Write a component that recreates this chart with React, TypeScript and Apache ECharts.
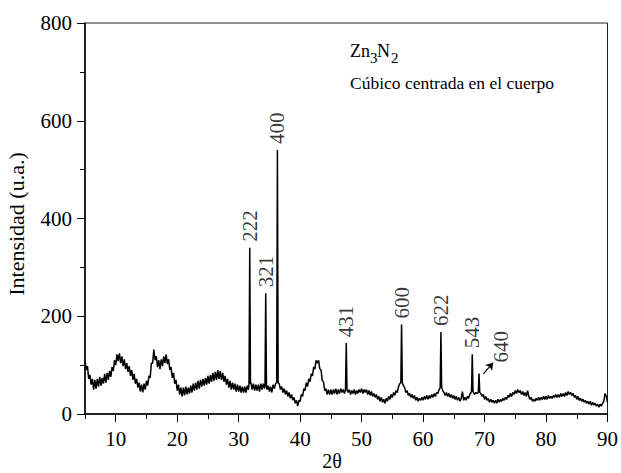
import React, { useEffect, useRef } from "react";
import * as echarts from "echarts";

// Diffraction pattern sampled every 0.2° of 2θ starting at 5° (one row per degree)
const THETA_START = 5;
const THETA_STEP = 0.2;
const background = [
  110, 90, 98, 72, 80, // 5
  60, 72, 50, 70, 52, // 6
  72, 56, 76, 58, 74, // 7
  62, 82, 64, 84, 70, // 8
  88, 76, 96, 88, 110, // 9
  100, 122, 108, 124, 104, // 10
  118, 98, 112, 92, 104, // 11
  86, 98, 78, 90, 70, // 12
  82, 62, 72, 54, 64, // 13
  46, 60, 44, 62, 50, // 14
  68, 58, 78, 74, 104, // 15
  104, 132, 110, 118, 96, // 16
  110, 92, 112, 98, 118, // 17
  104, 122, 102, 112, 90, // 18
  96, 74, 84, 62, 70, // 19
  48, 60, 40, 54, 36, // 20
  54, 38, 56, 40, 54, // 21
  42, 58, 44, 62, 48, // 22
  64, 50, 68, 52, 70, // 23
  56, 72, 58, 74, 60, // 24
  78, 62, 80, 66, 84, // 25
  68, 86, 70, 90, 72, // 26
  88, 70, 84, 66, 78, // 27
  60, 72, 54, 68, 50, // 28
  64, 50, 62, 46, 60, // 29
  46, 58, 44, 56, 44, // 30
  56, 44, 58, 50, 60, // 31
  64, 50, 62, 48, 60, // 32
  48, 60, 46, 62, 50, // 33
  62, 52, 58, 50, 58, // 34
  46, 56, 44, 60, 52, // 35
  62, 60, 62, 62, 50, // 36
  56, 44, 52, 40, 48, // 37
  36, 44, 32, 40, 28, // 38
  34, 22, 28, 16, 28, // 39
  26, 40, 36, 52, 48, // 40
  64, 56, 72, 66, 82, // 41
  78, 96, 92, 110, 104, // 42
  110, 92, 90, 68, 66, // 43
  48, 52, 40, 50, 40, // 44
  50, 40, 50, 42, 52, // 45
  40, 50, 42, 52, 44, // 46
  50, 42, 52, 52, 44, // 47
  50, 40, 48, 42, 50, // 48
  40, 48, 42, 50, 44, // 49
  52, 42, 50, 44, 50, // 50
  40, 48, 38, 46, 36, // 51
  42, 34, 40, 30, 36, // 52
  26, 34, 24, 30, 22, // 53
  32, 26, 36, 30, 40, // 54
  34, 44, 38, 48, 44, // 55
  56, 62, 64, 64, 58, // 56
  54, 44, 48, 38, 42, // 57
  34, 40, 32, 38, 28, // 58
  34, 26, 32, 28, 34, // 59
  28, 36, 30, 38, 30, // 60
  38, 32, 40, 34, 42, // 61
  36, 44, 42, 50, 52, // 62
  52, 48, 44, 38, 44, // 63
  36, 42, 34, 40, 32, // 64
  38, 30, 36, 28, 34, // 65
  26, 32, 46, 28, 34, // 66
  28, 36, 32, 40, 44, // 67
  44, 46, 40, 44, 42, // 68
  44, 44, 42, 36, 40, // 69
  30, 36, 28, 32, 24, // 70
  30, 24, 28, 22, 28, // 71
  22, 30, 24, 30, 26, // 72
  32, 28, 34, 30, 38, // 73
  34, 42, 36, 44, 40, // 74
  48, 42, 50, 44, 48, // 75
  40, 46, 38, 44, 36, // 76
  48, 36, 30, 34, 26, // 77
  30, 26, 32, 28, 34, // 78
  28, 34, 30, 36, 30, // 79
  36, 30, 38, 32, 36, // 80
  32, 38, 34, 40, 34, // 81
  40, 34, 42, 36, 42, // 82
  36, 44, 38, 46, 40, // 83
  44, 38, 42, 34, 38, // 84
  30, 36, 28, 32, 26, // 85
  30, 24, 28, 22, 26, // 86
  20, 26, 18, 24, 18, // 87
  22, 16, 20, 14, 20, // 88
  16, 22, 26, 42, 36, // 89
  24, // 90
];

// Indexed reflections of cubic Zn3N2
const peakTheta = [31.8, 34.4, 36.3, 47.5, 56.5, 62.9, 68.0, 69.1];
const peakIntensity = [340, 247, 540, 145, 183, 168, 122, 83];
const peakBase = [62, 58, 64, 50, 64, 54, 46, 44];
const peakHkl = ["222", "321", "400", "431", "600", "622", "543", "640"];

// Pointer from the (640) reflection towards its label
const arrow640 = [
  [69.8, 82],
  [71.4, 105],
];

const yTicks = { min: 0, max: 800, interval: 200 };
const xMajorTicks = [10, 20, 30, 40, 50, 60, 70, 80, 90];
const xMinorTicks = [5, 15, 25, 35, 45, 55, 65, 75, 85];

const FONT = "'Liberation Serif', 'Times New Roman', serif";
const PEAK_HALF_WIDTH = 0.12;
const PEAK_WINDOW = 0.15;

function buildPattern(): [number, number][] {
  const pts: [number, number][] = [];
  background.forEach((v, i) => {
    const t = THETA_START + i * THETA_STEP;
    if (peakTheta.some((p) => Math.abs(p - t) < PEAK_WINDOW)) return;
    pts.push([t, v]);
  });
  peakTheta.forEach((p, k) => {
    pts.push([p - PEAK_HALF_WIDTH, peakBase[k]]);
    pts.push([p, peakIntensity[k]]);
    pts.push([p + PEAK_HALF_WIDTH, peakBase[k]]);
  });
  pts.sort((a, b) => a[0] - b[0]);
  return pts;
}

export default function App() {
  const ref = useRef<HTMLDivElement>(null);

  useEffect(() => {
    if (!ref.current) return;
    const chart = echarts.init(ref.current, undefined, { renderer: "svg" });

    const textStyle = (text: string, size: number) => ({
      text,
      fontSize: size,
      fontFamily: FONT,
      fill: "#000",
      align: "left",
      verticalAlign: "middle",
      textAlign: "left",
      textVerticalAlign: "middle",
    });

    chart.setOption({
      animation: false,
      backgroundColor: "#fff",
      textStyle: { fontFamily: FONT },
      grid: {
        left: 85,
        right: 11,
        top: 23,
        bottom: 59,
        show: true,
        borderColor: "#222",
        borderWidth: 1,
        backgroundColor: "transparent",
      },
      xAxis: [
        {
          type: "value",
          min: 5,
          max: 90,
          interval: 5,
          axisLine: { show: true, onZero: false, lineStyle: { color: "#000", width: 1.5 } },
          axisTick: {
            show: true,
            inside: false,
            length: 8,
            customValues: xMajorTicks,
            lineStyle: { color: "#000", width: 1 },
          },
          axisLabel: {
            show: true,
            customValues: xMajorTicks,
            fontSize: 21,
            fontFamily: FONT,
            color: "#000",
            margin: 14,
          },
          splitLine: { show: false },
        },
        {
          type: "value",
          min: 5,
          max: 90,
          interval: 5,
          position: "bottom",
          axisLine: { show: false },
          axisTick: {
            show: true,
            inside: false,
            length: 5,
            customValues: xMinorTicks,
            lineStyle: { color: "#000", width: 1 },
          },
          axisLabel: { show: false },
          splitLine: { show: false },
        },
      ],
      yAxis: {
        type: "value",
        min: yTicks.min,
        max: yTicks.max,
        interval: yTicks.interval,
        axisLine: { show: true, lineStyle: { color: "#000", width: 1.5 } },
        axisTick: { show: true, inside: false, length: 8, lineStyle: { color: "#000", width: 1 } },
        minorTick: { show: true, splitNumber: 2, length: 5, lineStyle: { color: "#000", width: 1 } },
        axisLabel: { fontSize: 21, fontFamily: FONT, color: "#000", margin: 13 },
        splitLine: { show: false },
      },
      series: [
        {
          type: "line",
          xAxisIndex: 0,
          data: buildPattern(),
          showSymbol: false,
          symbol: "none",
          silent: true,
          lineStyle: { color: "#000", width: 1.5 },
          markLine: {
            silent: true,
            symbol: ["none", "arrow"],
            symbolSize: 7,
            lineStyle: { color: "#000", width: 1.2, type: "solid" },
            itemStyle: { color: "#000" },
            label: { show: false },
            data: [
              [
                { coord: arrow640[0] },
                { coord: arrow640[1] },
              ],
            ],
          },
        },
        {
          type: "scatter",
          xAxisIndex: 0,
          silent: true,
          symbolSize: 0,
          itemStyle: { color: "transparent" },
          data: peakTheta.map((t, k) => ({
            value: [t, peakIntensity[k]],
            name: peakHkl[k],
            label: peakHkl[k] === "640" ? { offset: [5, 22] } : undefined,
          })),
          label: {
            show: true,
            formatter: "{b}",
            position: "top",
            distance: 6,
            rotate: 90,
            align: "left",
            verticalAlign: "middle",
            fontSize: 21,
            fontFamily: FONT,
            color: "#000",
          },
        },
      ],
      graphic: [
        {
          type: "text",
          x: 16,
          y: 224,
          rotation: Math.PI / 2,
          style: { ...textStyle("Intensidad (u.a.)", 22), align: "center", textAlign: "center" },
        },
        {
          type: "text",
          x: 332,
          y: 461,
          style: { ...textStyle("2θ", 20), align: "center", textAlign: "center" },
        },
        { type: "text", x: 350, y: 51, style: textStyle("Zn", 18) },
        { type: "text", x: 370, y: 58, style: textStyle("3", 15) },
        { type: "text", x: 377, y: 51, style: textStyle("N", 18) },
        { type: "text", x: 391, y: 58, style: textStyle("2", 15) },
        { type: "text", x: 350, y: 83, style: textStyle("Cúbico centrada en el cuerpo", 17.5) },
      ],
    });

    return () => chart.dispose();
  }, []);

  return (
    <div
      ref={ref}
      style={{ position: "absolute", left: 0, top: 0, width: 621, height: 473, background: "#fff" }}
    />
  );
}
